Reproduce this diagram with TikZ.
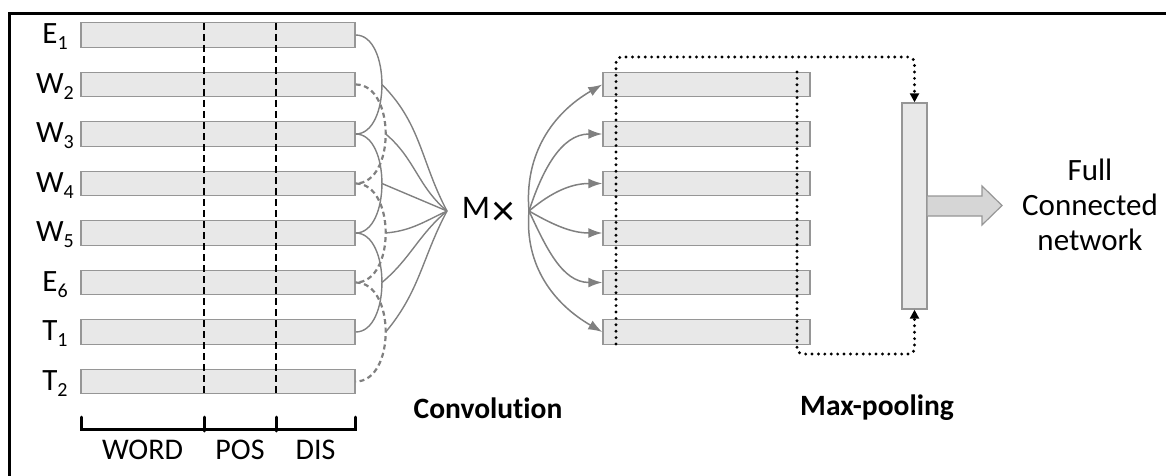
\documentclass[tikz,border=0pt]{standalone}
\usepackage{fontspec}
\setmainfont{Carlito}[RawFeature=-liga]
\usetikzlibrary{arrows.meta}

\definecolor{barfill}{RGB}{232,232,232}
\definecolor{barline}{RGB}{150,150,150}
\definecolor{wire}{RGB}{128,128,128}
\definecolor{fatfill}{RGB}{214,214,214}

\newcommand\lsub[1]{\raisebox{-6pt}{\fontsize{20}{20}\selectfont #1}}

\tikzset{
  bar/.style={draw=barline, fill=barfill, line width=1.4pt, inner sep=0pt,
              minimum height=24.5pt},
  lbar/.style={bar, minimum width=274pt},
  rbar/.style={bar, minimum width=207pt},
  lab/.style={font=\fontsize{31}{34}\selectfont, inner sep=0pt},
  seglab/.style={font=\fontsize{30}{34}\selectfont, inner sep=0pt},
  title/.style={font=\fontsize{29.5}{33}\selectfont\bfseries, inner sep=0pt},
  wire/.style={draw=wire, line width=1.4pt},
  dwire/.style={wire, dash pattern=on 5pt off 3.5pt, line width=2.2pt},
  fan/.style={wire, line width=1.5pt, -{Latex[length=14pt,width=10pt]}},
  dotline/.style={line width=3.2pt, line cap=round, dash pattern=on 0pt off 6.4pt,
                  rounded corners=6pt, -{Triangle[length=9pt,width=9pt]}},
  divider/.style={line width=2pt, dash pattern=on 7pt off 4pt},
  brace/.style={line width=3pt, line cap=round},
}

\begin{document}
\begin{tikzpicture}[x=1pt, y=1pt]
\useasboundingbox (0,0) rectangle (1166,-476);

% frame
\draw[line width=3pt, line join=miter] (9.5,-476) -- (9.5,-13.5) -- (1166,-13.5);

% embedding rows
\foreach \i/\y/\t in {1/35/E\lsub{1}, 2/84.5/W\lsub{2}, 3/134/W\lsub{3}, 4/183.5/W\lsub{4},
                      5/233/W\lsub{5}, 6/282.5/E\lsub{6}, 7/332/T\lsub{1}, 8/381.5/T\lsub{2}} {
  \node[lbar] (lb\i) at (218,-\y) {};
  \node[lab] (lt\i) at (55,-\y-2) {\t};
}

% column separators
\draw[divider] (204,-23) -- (204,-394);
\draw[divider] (276,-23) -- (276,-394);

% segment brace
\draw[brace] (81,-417) -- (81,-429) -- (355,-429) -- (355,-417);
\draw[brace] (204,-417) -- (204,-431);
\draw[brace] (276,-417) -- (276,-431);
\node[seglab] (sw) at (142.5,-450) {WORD};
\node[seglab] (sp) at (240,-450) {POS};
\node[seglab] (sd) at (315.5,-450) {DIS};

% filter windows
\draw[wire] (lb1.east) .. controls +(35,0) and +(35,0) .. node[pos=0.5, coordinate] (s1) {} (lb3.east);
\draw[wire] (lb3.east) .. controls +(35,0) and +(35,0) .. node[pos=0.5, coordinate] (s2) {} (lb5.east);
\draw[wire] (lb5.east) .. controls +(35,0) and +(35,0) .. node[pos=0.5, coordinate] (s3) {} (lb7.east);
\draw[dwire] (lb2.east) .. controls +(40,0) and +(40,0) .. node[pos=0.5, coordinate] (d1) {} (lb4.east);
\draw[dwire] (lb4.east) .. controls +(40,0) and +(40,0) .. node[pos=0.5, coordinate] (d2) {} (lb6.east);
\draw[dwire] (lb6.east) .. controls +(40,0) and +(40,0) .. node[pos=0.5, coordinate] (d3) {} (lb8.east);

% filter count
\node[font=\fontsize{33}{36}\selectfont, inner sep=0pt] (mx) at (488,-211)
  {M\kern2pt\raisebox{-7pt}{\scalebox{1.35}{×}}};
\coordinate (cin) at (447,-211);
\coordinate (cout) at (529,-211);

\draw[wire] (s1) to[out=-45, in=118] (cin);
\draw[wire] (d1) to[out=-40, in=140] (cin);
\draw[wire] (s2) -- (cin);
\draw[wire] (d2) to[out=5, in=205] (cin);
\draw[wire] (s3) to[out=40, in=220] (cin);
\draw[wire] (d3) to[out=50, in=-118] (cin);

% feature maps
\foreach \k/\y in {1/84.5, 2/134, 3/183.5, 4/233, 5/282.5, 6/332} {
  \node[rbar] (rb\k) at (706.5,-\y) {};
}
\draw[fan] (cout) to[out=95,  in=-150] (rb1.west);
\draw[fan] (cout) to[out=72,  in=180]  (rb2.west);
\draw[fan] (cout) to[out=40,  in=180]  (rb3.west);
\draw[fan] (cout) to[out=-30, in=180]  (rb4.west);
\draw[fan] (cout) to[out=-65, in=180]  (rb5.west);
\draw[fan] (cout) to[out=-95, in=150]  (rb6.west);

% pooled vector
\node[bar, minimum width=25pt, minimum height=206pt] (pool) at (914.5,-206) {};

% pooling windows
\coordinate (pa) at (616,-344);
\coordinate (pb) at (797,-72);
\draw[dotline] (pa) -- (616,-57) -- (914.5,-57) -- (pool.north);
\draw[dotline] (pb) -- (797,-354) -- (914.5,-354) -- (pool.south);

% output arrow
\draw[draw=barline, fill=fatfill, line width=1.2pt, line join=miter]
  (pool.east |- 0,-196) -- (982,-196) -- (982,-186) -- (1002,-205.5)
  -- (982,-225) -- (982,-216) -- (pool.east |- 0,-216);
\node[font=\fontsize{31}{35}\selectfont, align=center, inner sep=0pt] (fc) at (1090,-205)
  {Full\\Connected\\network};

% stage titles
\node[title] (tc) at (488,-408) {Convolution};
\node[title] (tm) at (877,-408) {Max-pooling};
\end{tikzpicture}
\end{document}
